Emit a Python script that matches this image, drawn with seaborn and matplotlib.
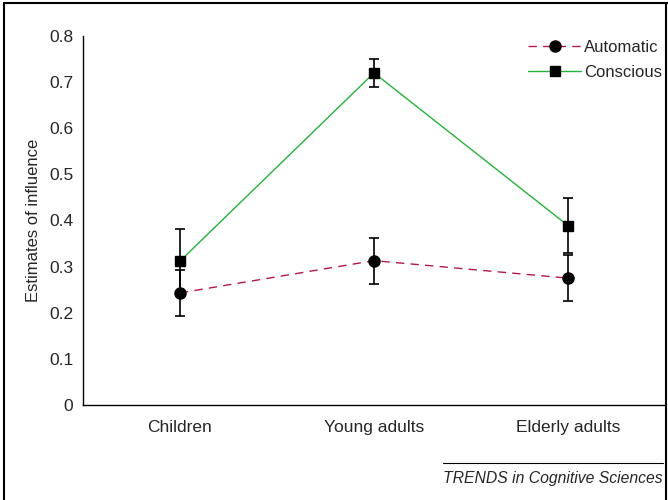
import matplotlib
matplotlib.use("Agg")
import matplotlib.pyplot as plt
import seaborn as sns
import pandas as pd
from matplotlib.lines import Line2D

groups = ["Children", "Young adults", "Elderly adults"]
automatic = [0.243, 0.313, 0.275]
automatic_err = [0.05, 0.05, 0.05]
conscious = [0.312, 0.720, 0.389]
conscious_err = [0.07, 0.03, 0.06]
yticks = [0, 0.1, 0.2, 0.3, 0.4, 0.5, 0.6, 0.7, 0.8]
ytick_labels = ["0", "0.1", "0.2", "0.3", "0.4", "0.5", "0.6", "0.7", "0.8"]

sns.set_style("white")
plt.rcParams["font.family"] = ["Liberation Sans", "DejaVu Sans"]

df = pd.DataFrame({
    "group": groups * 2,
    "value": automatic + conscious,
    "series": ["Automatic"] * 3 + ["Conscious"] * 3,
})

red = "#B8154F"
green = "#22B43A"

fig = plt.figure(figsize=(6.68, 5.0), dpi=100)
ax = fig.add_axes([83 / 668, 1 - 405 / 500, (665 - 83) / 668, (405 - 36) / 500])

sns.lineplot(data=df[df.series == "Automatic"], x="group", y="value", ax=ax,
             color=red, lw=1.0, legend=False)
ax.lines[-1].set_dashes([6, 4.5])
sns.lineplot(data=df[df.series == "Conscious"], x="group", y="value", ax=ax,
             color=green, lw=1.0, legend=False)

xpos = list(range(len(groups)))
ax.errorbar(xpos, automatic, yerr=automatic_err, fmt="none", ecolor="black",
            elinewidth=1.2, capsize=3.3, capthick=1.2, zorder=3)
ax.errorbar(xpos, conscious, yerr=conscious_err, fmt="none", ecolor="black",
            elinewidth=1.2, capsize=3.3, capthick=1.2, zorder=3)
ax.plot(xpos, automatic, ls="none", marker="o", ms=8, color="black", zorder=4)
ax.plot(xpos, conscious, ls="none", marker="s", ms=7, color="black", zorder=4)

ax.set_xlim(-0.5, 2.5)
ax.set_ylim(0, 0.8)
ax.set_yticks(yticks)
ax.set_yticklabels(ytick_labels, fontsize=12.5)
ax.set_xticks([-0.5, 0.5, 1.5, 2.5])
ax.set_xticklabels([])
ax.set_xticks(xpos, minor=True)
ax.set_xticklabels(groups, minor=True, fontsize=12.5)
ax.tick_params(axis="x", which="major", direction="out", length=5, width=1, color="black")
ax.tick_params(axis="x", which="minor", length=0, pad=11)
ax.tick_params(axis="y", direction="out", length=4, width=1, color="black", pad=3)
ax.set_xlabel("")
ax.set_ylabel("Estimates of influence", fontsize=12)
ax.yaxis.set_label_coords((41 - 83) / 582, 0.5)
for s in ["top", "right"]:
    ax.spines[s].set_visible(False)
for s in ["left", "bottom"]:
    ax.spines[s].set_color("black")
    ax.spines[s].set_linewidth(1.0)
ax.grid(False)

handles = [
    Line2D([], [], color=red, lw=1.0, dashes=[6, 4.5], marker="o", ms=8,
           mfc="black", mec="black"),
    Line2D([], [], color=green, lw=1.0, marker="s", ms=7, mfc="black", mec="black"),
]
ax.legend(handles, ["Automatic", "Conscious"], loc="upper left",
          bbox_to_anchor=(528 / 668, 1 - 40 / 500), bbox_transform=fig.transFigure,
          borderaxespad=0, borderpad=0, frameon=False, fontsize=12,
          handlelength=3.2, handletextpad=0.15, labelspacing=0.58)

# footer
fig.add_artist(Line2D([443 / 668, 663 / 668], [1 - 463 / 500, 1 - 463 / 500],
                      color="black", lw=0.8))
fig.text(663 / 668, 1 - 478 / 500, "TRENDS in Cognitive Sciences", ha="right",
         va="center", fontsize=11.3, style="italic")

# outer frame
fig.add_artist(Line2D([4 / 668, 4 / 668], [0, 1 - 3 / 500], color="black", lw=1.5))
fig.add_artist(Line2D([4 / 668, 1], [1 - 3 / 500, 1 - 3 / 500], color="black", lw=1.5))
fig.add_artist(Line2D([666 / 668, 666 / 668], [0, 1 - 3 / 500], color="black", lw=1.5))

fig.savefig("out.png", dpi=100)
